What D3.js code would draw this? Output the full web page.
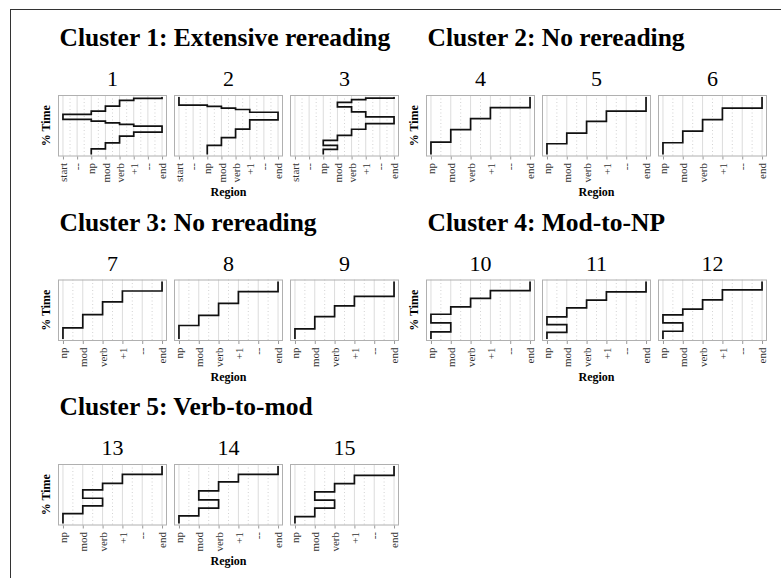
<!DOCTYPE html>
<html><head><meta charset="utf-8">
<script src="https://cdn.jsdelivr.net/npm/d3@7"></script>
<style>
html,body{margin:0;padding:0;background:#fff;}
svg{display:block;}
</style></head>
<body>
<svg id="chart" width="781" height="578"></svg>
<script>
// ---- data ----
const clusterTitles = ["Cluster 1: Extensive rereading", "Cluster 2: No rereading",
  "Cluster 3: No rereading", "Cluster 4: Mod-to-NP", "Cluster 5: Verb-to-mod"];
const clusterPanels = [[1,2,3],[4,5,6],[7,8,9],[10,11,12],[13,14,15]];
const regionsLong = ["start","--","np","mod","verb","+1","--","end"];
const regionsShort = ["np","mod","verb","+1","--","end"];
const yLabel = "% Time";
const xLabel = "Region";

// scanpaths: [region, cumulative % time at end of visit]
const path1 = [["np",9.8],["mod",20.2],["verb",31.9],["+1",38.9],["end",49.4],["+1",52.3],["verb",55.1],["mod",58.1],["np",61.1],["start",69.8],["np",75.6],["mod",84.3],["verb",94.2],["+1",97.7],["end",100]];
const path2 = [["np",15.9],["mod",29.3],["verb",44.2],["+1",60.1],["end",73.5],["+1",78.3],["verb",80.6],["mod",83.6],["np",85.9],["start",100]];
const path3 = [["np",8.8],["mod",15.8],["np",24.6],["mod",33.3],["verb",43.9],["+1",53.7],["end",65.4],["+1",74.2],["verb",83.0],["mod",90.5],["verb",95.3],["+1",98.2],["end",100]];
const path4 = [["np",21.5],["mod",43.1],["verb",62.3],["+1",81.5],["end",100]];
const path5 = [["np",18.7],["mod",37.2],["verb",57.6],["+1",75.6],["end",100]];
const path6 = [["np",20.4],["mod",40.7],["verb",60.5],["+1",80.8],["end",100]];
const path7 = [["np",19.4],["mod",42.4],["verb",64.7],["+1",83.5],["end",100]];
const path8 = [["np",23.5],["mod",41.2],["verb",61.8],["+1",82.4],["end",100]];
const path9 = [["np",17.6],["mod",38.8],["verb",57.6],["+1",74.1],["end",100]];
const path10 = [["np",12.3],["mod",28.2],["np",43.0],["mod",55.9],["verb",70.6],["+1",84.1],["end",100]];
const path11 = [["np",11.5],["mod",24.9],["np",38.4],["mod",54.1],["verb",67.5],["+1",82.0],["end",100]];
const path12 = [["np",13.5],["mod",28.2],["np",41.8],["mod",51.8],["verb",68.2],["+1",85.3],["end",100]];
const path13 = [["np",17.3],["mod",30.6],["verb",43.9],["mod",58.4],["verb",69.9],["+1",85.5],["end",100]];
const path14 = [["np",13.3],["mod",26.6],["verb",41.0],["mod",56.6],["verb",72.3],["+1",85.5],["end",100]];
const path15 = [["np",12.1],["mod",26.6],["verb",40.5],["mod",54.9],["verb",69.4],["+1",83.8],["end",100]];
const paths = {1:path1,2:path2,3:path3,4:path4,5:path5,6:path6,7:path7,8:path8,9:path9,10:path10,11:path11,12:path12,13:path13,14:path14,15:path15};

// ---- layout ----
const svg = d3.select("#chart");
const FONT = "'Liberation Serif','Times New Roman',Times,serif";
const colX = [58, 426], rowY = [95, 279.5, 464];
const pw = 109, ph = 61.5, gap = 7;

// outer frame
svg.append("line").attr("x1",10).attr("x2",781).attr("y1",9.5).attr("y2",9.5).attr("stroke","#333").attr("stroke-width",1);
svg.append("line").attr("x1",10.5).attr("x2",10.5).attr("y1",9).attr("y2",578).attr("stroke","#333").attr("stroke-width",1);

clusterTitles.forEach((title, ci) => {
  const bx = colX[ci % 2], by = rowY[Math.floor(ci / 2)];
  const regs = ci === 0 ? regionsLong : regionsShort;
  const n = regs.length - 1;
  const g = svg.append("g");

  g.append("text").attr("x", bx + 1.5).attr("y", by - 49)
    .attr("font-family", FONT).attr("font-weight", "bold").attr("font-size", 25.5)
    .attr("fill", "#000").text(title);

  g.append("text").attr("transform", `translate(${bx - 8.5},${by + ph / 2}) rotate(-90)`)
    .attr("text-anchor", "middle").attr("font-family", FONT).attr("font-weight", "bold")
    .attr("font-size", 12).attr("fill", "#000").text(yLabel);

  clusterPanels[ci].forEach((pid, pi) => {
    const px = bx + pi * (pw + gap);
    const x = d3.scaleLinear().domain([-0.05 * n, n * 1.05]).range([px, px + pw]);
    const y = d3.scaleLinear().domain([-3.5, 103.5]).range([by + ph, by]);
    const pg = g.append("g");

    // minor grid
    pg.selectAll("line.minor").data(d3.range(n)).join("line").attr("class","minor")
      .attr("x1", d => x(d + 0.5)).attr("x2", d => x(d + 0.5))
      .attr("y1", by).attr("y2", by + ph)
      .attr("stroke", "#c8c8c8").attr("stroke-width", 0.8).attr("stroke-dasharray", "1,2.5");
    // major grid
    pg.selectAll("line.major").data(d3.range(n + 1)).join("line").attr("class","major")
      .attr("x1", d => x(d)).attr("x2", d => x(d))
      .attr("y1", by).attr("y2", by + ph)
      .attr("stroke", "#dcdcdc").attr("stroke-width", 1);
    // border
    pg.append("rect").attr("x", px + 0.5).attr("y", by + 0.5).attr("width", pw - 1).attr("height", ph - 1)
      .attr("fill", "none").attr("stroke", "#b0b0b0").attr("stroke-width", 1);

    // axis
    const ax = pg.append("g").attr("transform", `translate(0,${by + ph})`)
      .call(d3.axisBottom(x).tickValues(d3.range(n + 1)).tickFormat(i => regs[i]).tickSize(3).tickSizeOuter(0));
    ax.select(".domain").remove();
    ax.selectAll(".tick line").attr("stroke", "#999");
    ax.selectAll(".tick text")
      .attr("font-family", FONT).attr("font-size", 11).attr("fill", "#333")
      .attr("transform", "rotate(-90)").attr("text-anchor", "end")
      .attr("x", -6.5).attr("y", 0).attr("dy", "0.33em");

    // scanpath
    const data = paths[pid];
    const pts = [];
    let t0 = 0;
    data.forEach(([r, t1]) => {
      const ri = regs.indexOf(r);
      pts.push([ri, t0]); pts.push([ri, t1]);
      t0 = t1;
    });
    const line = d3.line().x(d => x(d[0])).y(d => y(d[1]));
    pg.append("path").attr("d", line(pts)).attr("fill", "none")
      .attr("stroke", "#111").attr("stroke-width", 1.7).attr("stroke-linejoin", "miter");

    // panel number
    pg.append("text").attr("x", px + pw / 2).attr("y", by - 9).attr("text-anchor", "middle")
      .attr("font-family", FONT).attr("font-size", 22).attr("fill", "#000").text(pid);

    if (pi === 1) {
      pg.append("text").attr("x", px + pw / 2).attr("y", by + 101).attr("text-anchor", "middle")
        .attr("font-family", FONT).attr("font-weight", "bold").attr("font-size", 12)
        .attr("fill", "#000").text(xLabel);
    }
  });
});
</script>
</body></html>
